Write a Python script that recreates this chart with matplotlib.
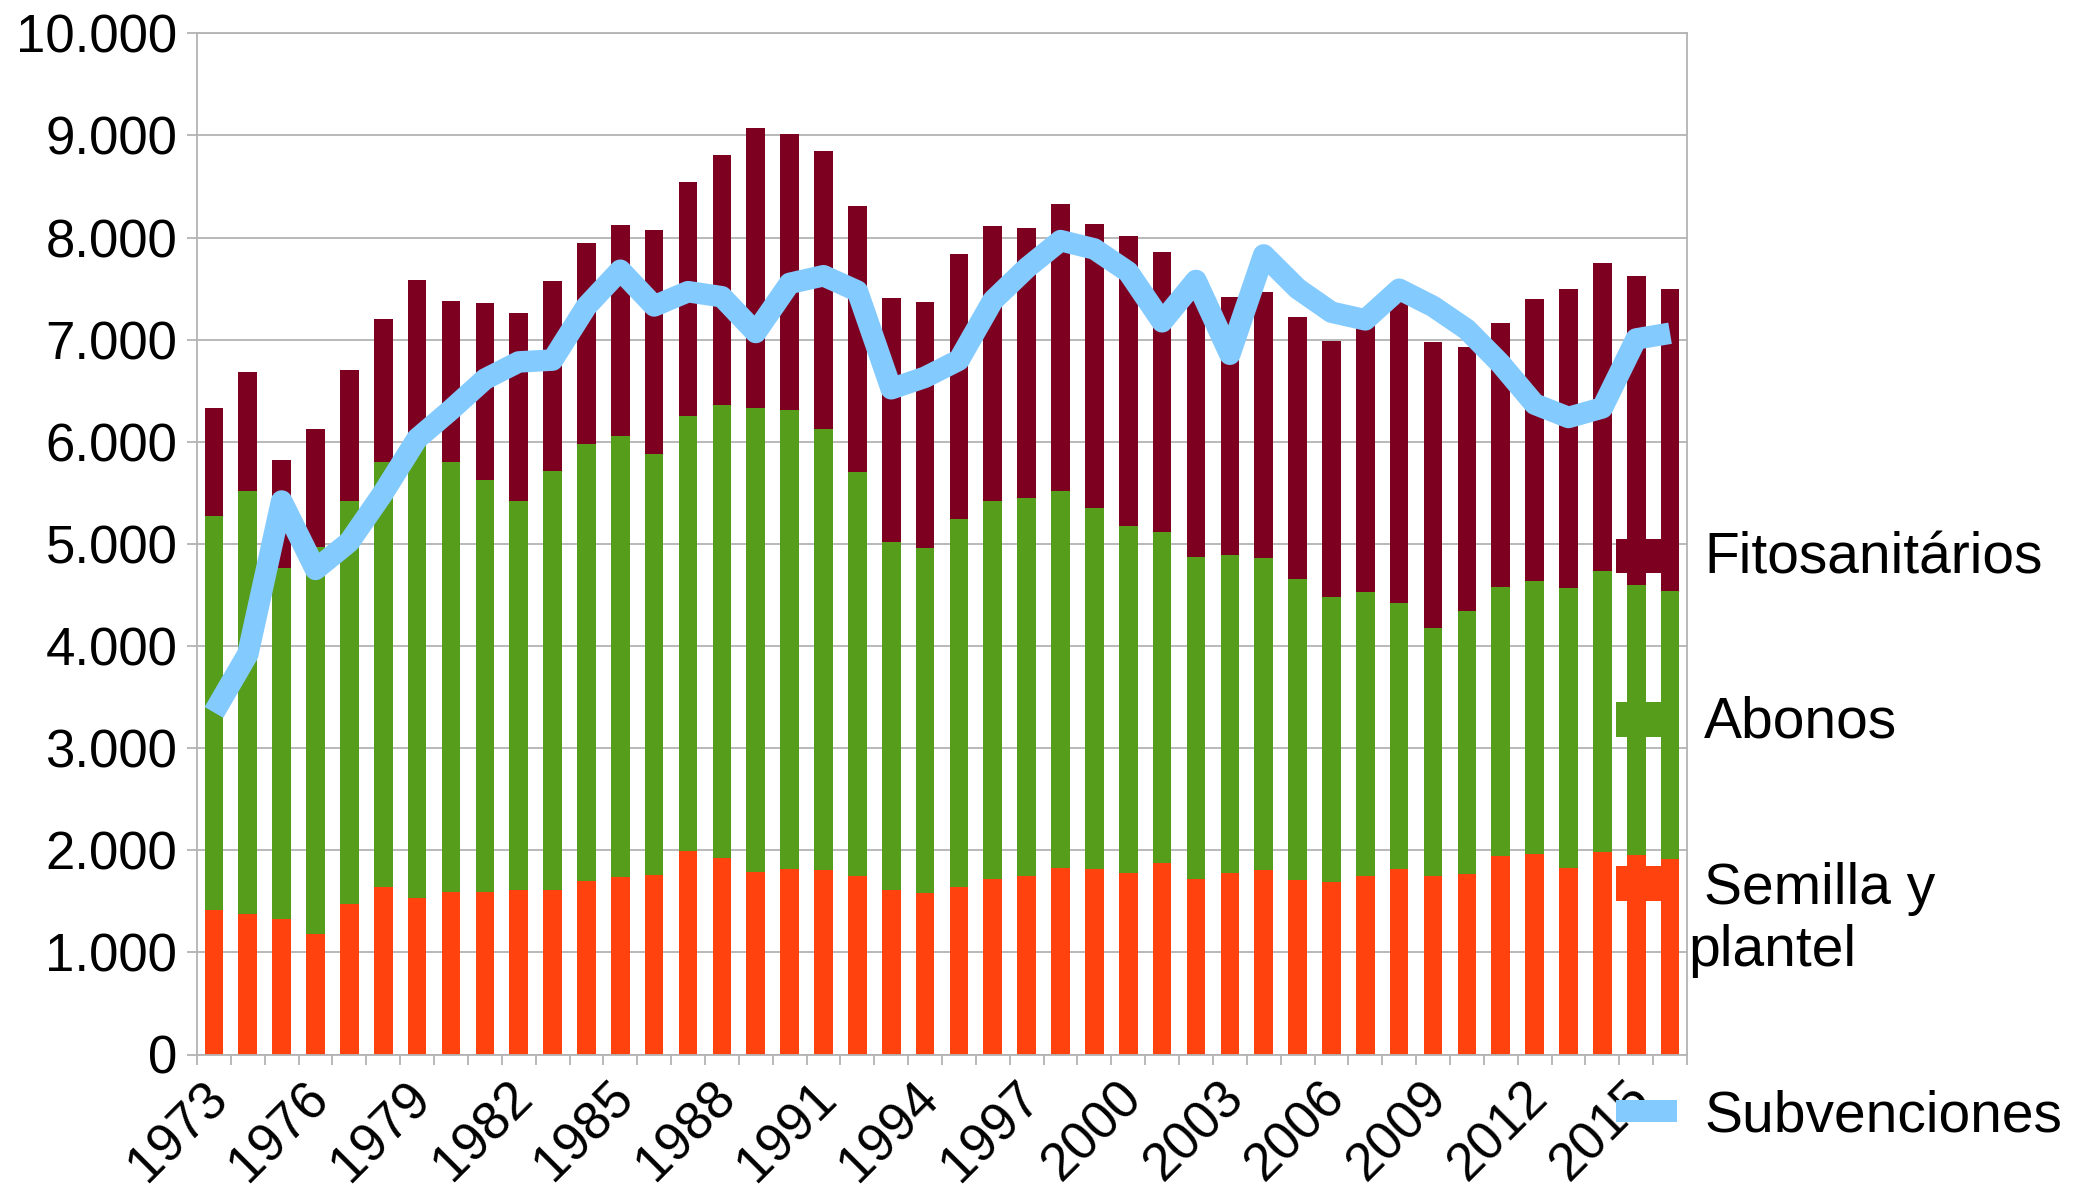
import matplotlib
matplotlib.use("Agg")
import matplotlib.pyplot as plt
from matplotlib.patches import Rectangle
from matplotlib.ticker import FuncFormatter, MultipleLocator
from matplotlib.transforms import ScaledTranslation
import numpy as np

plt.rcParams['font.family'] = ['Liberation Sans', 'DejaVu Sans']

years = list(range(1973, 2017))

semilla = [1415, 1375, 1327, 1182, 1471, 1639, 1535, 1591, 1591, 1615,
           1615, 1703, 1735, 1760, 1992, 1928, 1792, 1816, 1808, 1752,
           1615, 1583, 1639, 1719, 1752, 1824, 1816, 1776, 1880, 1719,
           1776, 1808, 1711, 1687, 1752, 1816, 1752, 1768, 1944, 1968,
           1824, 1984, 1952, 1912]

abonos = [3855, 4146, 3440, 3788, 3953, 4167, 4445, 4208, 4032, 3809,
          4094, 4280, 4319, 4118, 4265, 4437, 4543, 4493, 4314, 3949,
          3400, 3372, 3601, 3705, 3702, 3690, 3540, 3404, 3233, 3151,
          3114, 3050, 2942, 2790, 2773, 2605, 2420, 2573, 2633, 2665,
          2741, 2749, 2645, 2625]

fitosanitarios = [1058, 1159, 1058, 1159, 1275, 1396, 1601, 1575, 1733, 1834,
                  1864, 1962, 2067, 2194, 2284, 2442, 2735, 2705, 2723, 2607,
                  2389, 2412, 2596, 2686, 2637, 2813, 2776, 2832, 2747, 2730,
                  2530, 2606, 2568, 2513, 2675, 2949, 2801, 2583, 2584, 2764,
                  2929, 3016, 3029, 2957]

subvenciones = [3350, 3920, 5420, 4750, 5020, 5500, 6030, 6313, 6613, 6782,
                6800, 7326, 7680, 7330, 7470, 7420, 7070, 7551, 7626, 7476,
                6519, 6632, 6800, 7382, 7701, 7970, 7888, 7663, 7175, 7580,
                6857, 7830, 7500, 7269, 7194, 7494, 7326, 7100, 6763, 6369,
                6238, 6332, 7007, 7063]

series_names = ["Fitosanitários", "Abonos", "Semilla y plantel", "Subvenciones"]

C_SEM = "#ff420e"
C_ABO = "#579d1c"
C_FIT = "#7e0021"
C_SUB = "#83caff"
GRID = "#b3b3b3"

W, H = 2076, 1192
fig = plt.figure(figsize=(W / 100, H / 100), dpi=100)
ax = fig.add_axes([197 / W, 1 - 1054.5 / H, (1687 - 197) / W, (1054.5 - 33.3) / H])

x = np.arange(len(years))
sem = np.array(semilla)
abo = np.array(abonos)
fit = np.array(fitosanitarios)
bw = 0.55
ax.bar(x, sem, bw, color=C_SEM, zorder=2)
ax.bar(x, abo, bw, bottom=sem, color=C_ABO, zorder=2)
ax.bar(x, fit, bw, bottom=sem + abo, color=C_FIT, zorder=2)
ax.plot(x, subvenciones, color=C_SUB, lw=15.5, solid_joinstyle='round',
        solid_capstyle='butt', zorder=3)

ax.set_xlim(-0.5, len(years) - 0.5)
ax.set_ylim(0, 10000)
ax.yaxis.set_major_locator(MultipleLocator(1000))
ax.yaxis.set_major_formatter(FuncFormatter(lambda v, p: f"{int(round(v)):,}".replace(",", ".")))
ax.grid(axis='y', color=GRID, lw=1.3, zorder=0)
ax.set_axisbelow(True)
for s in ax.spines.values():
    s.set_color(GRID)
    s.set_linewidth(1.3)

ax.set_xticks(x[::3])
ax.set_xticklabels([str(y) for y in years[::3]], rotation=45, ha='right',
                   va='top', rotation_mode='anchor')
ax.set_xticks(np.arange(-0.5, len(years)), minor=True)
ax.tick_params(axis='x', which='major', length=0, pad=13, labelsize=38)
ax.tick_params(axis='x', which='minor', length=7.2, width=1.3, color=GRID)
ax.tick_params(axis='y', which='major', length=7.2, width=1.3, color=GRID,
               pad=7, labelsize=38)
shift = ScaledTranslation(-12 / 100, 0, fig.dpi_scale_trans)
for lab in ax.get_xticklabels():
    lab.set_transform(lab.get_transform() + shift)


def fx(px):
    return px / W


def fy(py):
    return 1 - py / H


# legend (manual, in figure pixels)
patch_x0, patch_x1 = 1616, 1677
legend_items = [
    (C_FIT, 539, 573),
    (C_ABO, 702, 737),
    (C_SEM, 866, 901),
    (C_SUB, 1100, 1122),
]
for col, y0, y1 in legend_items:
    fig.add_artist(Rectangle((fx(patch_x0), fy(y1)), fx(patch_x1) - fx(patch_x0),
                             fy(y0) - fy(y1), transform=fig.transFigure,
                             facecolor=col, edgecolor='none', zorder=5))

lfs = 41
fig.text(fx(1704), fy(574), series_names[0], fontsize=lfs, va='baseline', ha='left')
fig.text(fx(1704), fy(738), series_names[1], fontsize=lfs, va='baseline', ha='left')
sem_words = series_names[2].split(" ")
fig.text(fx(1704), fy(904), " ".join(sem_words[:2]), fontsize=lfs, va='baseline', ha='left')
fig.text(fx(1688), fy(966), sem_words[2], fontsize=lfs, va='baseline', ha='left')
fig.text(fx(1704), fy(1131), series_names[3], fontsize=lfs, va='baseline', ha='left')

fig.savefig("out.png", dpi=100, facecolor='white')
